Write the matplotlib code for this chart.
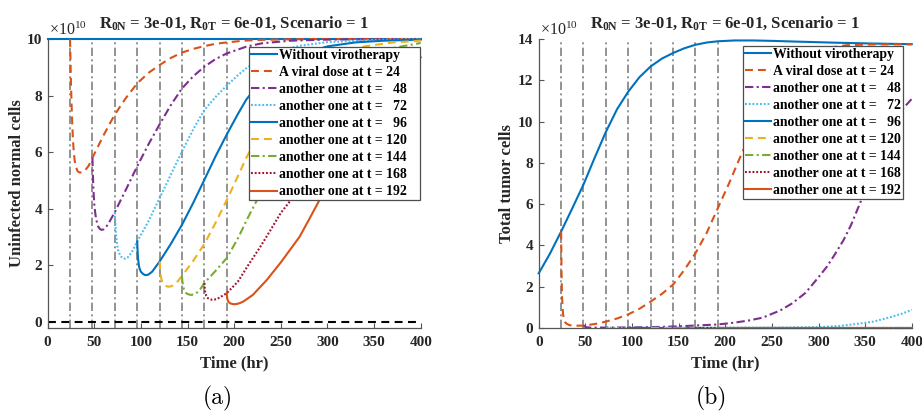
import numpy as np
import matplotlib.pyplot as plt

plt.rcParams['font.family'] = ['Liberation Serif', 'DejaVu Serif']
plt.rcParams['axes.titleweight'] = 'bold'
plt.rcParams['axes.labelweight'] = 'bold'
plt.rcParams['mathtext.fontset'] = 'custom'
plt.rcParams['mathtext.rm'] = 'Liberation Serif:weight=normal'
plt.rcParams['mathtext.bf'] = 'Liberation Serif:weight=bold'
plt.rcParams['mathtext.it'] = 'Liberation Serif:italic'

# dose times (hr)
dose_times = [24, 48, 72, 96, 120, 144, 168, 192]

# uninfected normal cells, units of 1e10
t_n0 = [0, 400]
n0 = [10, 10]
t_n24 = [24, 24.5, 25, 26, 27, 28, 29, 30, 32, 34, 36, 38, 40, 44, 48, 54, 60, 66, 72, 84, 96, 108, 120,
         132, 144, 156, 168, 180, 192, 210, 230, 260, 300, 350, 400]
n24 = [10, 9.2, 8.4, 7.3, 6.5, 6.0, 5.7, 5.5, 5.33, 5.28, 5.28, 5.3, 5.35, 5.52, 5.8, 6.2, 6.6, 6.97, 7.33,
       7.92, 8.43, 8.8, 9.08, 9.33, 9.52, 9.65, 9.75, 9.83, 9.88, 9.94, 9.97, 9.99, 10, 10, 10]
t_n48 = [48, 48.5, 49, 50, 51, 52, 54, 56, 58, 60, 63, 66, 72, 84, 96, 108, 120, 132, 144, 156, 168, 180,
         192, 213, 230, 260, 300, 400]
n48 = [5.8, 5.2, 4.7, 4.15, 3.85, 3.62, 3.38, 3.28, 3.25, 3.27, 3.37, 3.52, 3.88, 4.68, 5.5, 6.27, 6.98,
       7.66, 8.25, 8.68, 9.02, 9.29, 9.49, 9.73, 9.85, 9.94, 9.98, 10]
t_n72 = [72, 72.5, 73, 74, 75, 76, 78, 80, 83, 86, 90, 96, 108, 120, 132, 144, 156, 168, 180, 192, 204,
         213, 230, 250, 270, 300, 350, 400]
n72 = [3.88, 3.5, 3.2, 2.84, 2.62, 2.48, 2.33, 2.26, 2.23, 2.28, 2.45, 2.84, 3.55, 4.37, 5.2, 6.02, 6.8,
       7.49, 7.95, 8.35, 8.72, 8.97, 9.33, 9.6, 9.76, 9.89, 9.97, 10]
t_n96 = [96, 96.5, 97, 98, 99, 100, 102, 104, 106, 108, 112, 120, 132, 144, 156, 168, 180, 192, 204, 213,
         230, 250, 270, 300, 330, 360, 400]
n96 = [2.84, 2.45, 2.2, 1.95, 1.84, 1.77, 1.7, 1.66, 1.65, 1.67, 1.77, 2.13, 2.75, 3.43, 4.2, 5.02, 5.85,
       6.62, 7.35, 7.86, 8.57, 9.1, 9.44, 9.74, 9.88, 9.94, 9.98]
t_n120 = [120, 120.5, 121, 122, 123, 124, 126, 128, 130, 133, 136, 140, 144, 156, 168, 180, 192, 204, 213,
          225, 240, 255, 270, 290, 310, 340, 370, 400]
n120 = [2.13, 1.85, 1.68, 1.5, 1.4, 1.34, 1.28, 1.25, 1.24, 1.26, 1.32, 1.45, 1.62, 2.15, 2.75, 3.5, 4.3,
        5.15, 5.8, 6.55, 7.37, 8.06, 8.6, 9.11, 9.45, 9.74, 9.88, 9.94]
t_n144 = [144, 144.5, 145, 146, 147, 148, 150, 152, 154, 157, 160, 164, 168, 180, 192, 204, 215, 226, 240,
          255, 270, 285, 300, 315, 335, 365, 400]
n144 = [1.62, 1.42, 1.3, 1.16, 1.08, 1.03, 0.98, 0.96, 0.95, 0.97, 1.03, 1.17, 1.37, 1.8, 2.25, 2.95, 3.7,
        4.4, 5.25, 6.15, 7.0, 7.76, 8.37, 8.83, 9.27, 9.65, 9.86]
t_n168 = [168, 168.5, 169, 170, 171, 172, 174, 176, 178, 181, 184, 188, 192, 204, 215, 228, 240, 250, 261.6,
          275, 290, 305, 320, 335, 350, 370, 400]
n168 = [1.37, 1.15, 1.03, 0.92, 0.86, 0.83, 0.8, 0.78, 0.78, 0.8, 0.85, 0.93, 1.01, 1.42, 2.0, 2.65, 3.3,
        3.85, 4.34, 5.2, 6.13, 7.01, 7.76, 8.37, 8.83, 9.27, 9.65]
t_n192 = [192, 192.5, 193, 194, 195, 196, 198, 200, 203, 206, 210, 220, 235, 250, 260, 270, 280, 292, 305,
          320, 335, 350, 365, 380, 400]
n192 = [1.01, 0.85, 0.77, 0.7, 0.67, 0.65, 0.63, 0.62, 0.63, 0.66, 0.72, 0.95, 1.48, 2.1, 2.55, 3.0, 3.6,
        4.34, 5.18, 6.13, 7.01, 7.76, 8.37, 8.83, 9.35]

# total tumor cells, units of 1e10
t_t0 = [0, 12, 24, 36, 48, 60, 72, 84, 96, 108, 120, 132, 144, 156, 168, 180, 192, 210, 230, 250, 280,
        320, 360, 400]
tum0 = [2.65, 3.6, 4.67, 5.8, 6.95, 8.25, 9.5, 10.6, 11.45, 12.15, 12.67, 13.05, 13.32, 13.55, 13.72,
        13.83, 13.89, 13.93, 13.93, 13.91, 13.87, 13.82, 13.78, 13.75]
t_t24 = [24, 24.5, 25, 26, 27, 28, 30, 33, 36, 40, 48, 60, 72, 84, 96, 108, 120, 132, 144, 156, 168, 180,
         192, 204, 214, 225, 240, 255, 270, 285, 300, 330, 360, 400]
tum24 = [4.67, 2.6, 1.5, 0.7, 0.42, 0.3, 0.2, 0.14, 0.12, 0.11, 0.12, 0.19, 0.31, 0.46, 0.66, 0.93, 1.28,
         1.65, 2.1, 2.8, 3.62, 4.6, 5.8, 7.0, 8.07, 9.2, 10.7, 11.9, 12.7, 13.2, 13.5, 13.7, 13.74, 13.74]
t_t48 = [48, 49, 50, 52, 55, 60, 80, 120, 150, 168, 192, 210, 226, 240, 259, 272, 286, 298, 309, 318, 327,
         335, 343, 350, 360, 370, 380, 390, 400]
tum48 = [0.12, 0.08, 0.05, 0.03, 0.02, 0.02, 0.02, 0.04, 0.08, 0.12, 0.17, 0.26, 0.37, 0.5, 0.85, 1.2, 1.7,
         2.35, 2.97, 3.6, 4.27, 5.0, 5.88, 6.65, 7.72, 8.8, 9.8, 10.6, 11.1]
t_t72 = [72, 73, 75, 80, 120, 200, 260, 300, 323, 345, 359, 375, 390, 400]
tum72 = [0.02, 0.015, 0.01, 0.01, 0.01, 0.01, 0.02, 0.04, 0.1, 0.22, 0.31, 0.5, 0.7, 0.88]
t_t96 = [96, 100, 200, 400]
tum96 = [0.01, 0.01, 0.01, 0.01]
t_t120 = [120, 124, 200, 400]
tum120 = [0.01, 0.01, 0.01, 0.01]
t_t144 = [144, 148, 200, 400]
tum144 = [0.01, 0.01, 0.01, 0.01]
t_t168 = [168, 172, 200, 400]
tum168 = [0.01, 0.01, 0.01, 0.01]
t_t192 = [192, 196, 300, 400]
tum192 = [0.01, 0.01, 0.01, 0.01]

labels = ['Without virotherapy', 'A viral dose at t = 24'] + \
         ['another one at t = %3d' % d for d in dose_times[1:]]
labels = [s.replace('=  ', '=   ') if s.endswith(('48', '72', '96')) else s for s in labels]

normal = [(t_n0, n0), (t_n24, n24), (t_n48, n48), (t_n72, n72), (t_n96, n96),
          (t_n120, n120), (t_n144, n144), (t_n168, n168), (t_n192, n192)]
tumor = [(t_t0, tum0), (t_t24, tum24), (t_t48, tum48), (t_t72, tum72), (t_t96, tum96),
         (t_t120, tum120), (t_t144, tum144), (t_t168, tum168), (t_t192, tum192)]

dash = (0, (3.8, 2.4))
dashdot = (0, (4.0, 1.6, 1.0, 1.6))
dot = (0, (0.9, 0.9))
styles = [('#0072BD', '-'), ('#D95319', dash), ('#7E2F8E', dashdot), ('#4DBEEE', dot),
          ('#0072BD', '-'), ('#EDB120', dash), ('#77AC30', dashdot), ('#A2142F', dot),
          ('#D95319', '-')]

title = r'$\mathbf{R_{0N}}$ = 3e-01, $\mathbf{R_{0T}}$ = 6e-01, Scenario = 1'


def draw_panel(ax, curves, ylim, yticks, ylabel, ylab_x, leg_anchor, leg_tail='', zero_line=False):
    for t in dose_times:
        ax.axvline(t, color='#808080', lw=1.2, ls=(0, (5, 2, 1.2, 2)), zorder=1.5)
    if zero_line:
        ax.axhline(0, color='k', lw=1.5, ls=(0, (3.8, 2.6)), zorder=1.6)

    lines = []
    for (t, v), (c, ls) in zip(curves, styles):
        ln, = ax.plot(t, v, color=c, ls=ls, lw=1.5, clip_on=False, zorder=2)
        lines.append(ln)

    ax.set_xlim(0, 400)
    ax.set_ylim(*ylim)
    ax.set_xticks(np.arange(0, 401, 50))
    ax.set_yticks(yticks)
    for s in ['top', 'right']:
        ax.spines[s].set_visible(False)
    for s in ['left', 'bottom']:
        ax.spines[s].set_color('#555555')
        ax.spines[s].set_linewidth(0.9)
    ax.tick_params(direction='in', length=3.5, width=0.8, color='#555555',
                   labelsize=11, labelcolor='#262626', pad=4)
    ax.tick_params(axis='x', pad=6)
    for lbl in ax.get_xticklabels() + ax.get_yticklabels():
        lbl.set_fontweight('bold')

    ax.set_xlabel('Time (hr)', fontsize=12, color='#262626')
    ax.xaxis.set_label_coords(0.5, -0.095)
    ax.set_ylabel(ylabel, fontsize=12, color='#262626')
    ax.yaxis.set_label_coords(ylab_x, 0.5)
    ax.set_title(title, fontsize=12, color='#262626', pad=8)
    ax.text(0.004, 1.0, r'$\times10^{10}$', transform=ax.transAxes, fontsize=11.5,
            color='#262626', ha='left', va='bottom')

    leg = ax.legend(lines, [s + leg_tail for s in labels], loc='upper right',
                    bbox_to_anchor=leg_anchor, prop={'size': 9.9, 'weight': 'bold'},
                    handlelength=1.85, handletextpad=0.2, labelspacing=0.295,
                    borderpad=0.15, borderaxespad=0, fancybox=False, framealpha=1)
    leg.get_frame().set_edgecolor('#4d4d4d')
    leg.get_frame().set_linewidth(0.9)
    return ax


fig = plt.figure(figsize=(9.22, 4.12), dpi=100)
ax1 = fig.add_axes([0.0517, 0.2039, 0.4046, 0.7014])
ax2 = fig.add_axes([0.5843, 0.2039, 0.4046, 0.7014])

draw_panel(ax1, normal, (-0.22, 10), np.arange(0, 11, 2), 'Uninfected normal cells',
           -0.061, (0.998, 0.973), leg_tail='   ', zero_line=True)
draw_panel(ax2, tumor, (0, 14), np.arange(0, 15, 2), 'Total tumor cells',
           -0.0635, (0.9775, 0.977))

fig.text(218 / 922, 0.034, '(a)', fontfamily='cmr10', fontsize=17,
         ha='center', va='center')
fig.text(711 / 922, 0.034, '(b)', fontfamily='cmr10', fontsize=17,
         ha='center', va='center')

fig.savefig('out.png', dpi=100)
